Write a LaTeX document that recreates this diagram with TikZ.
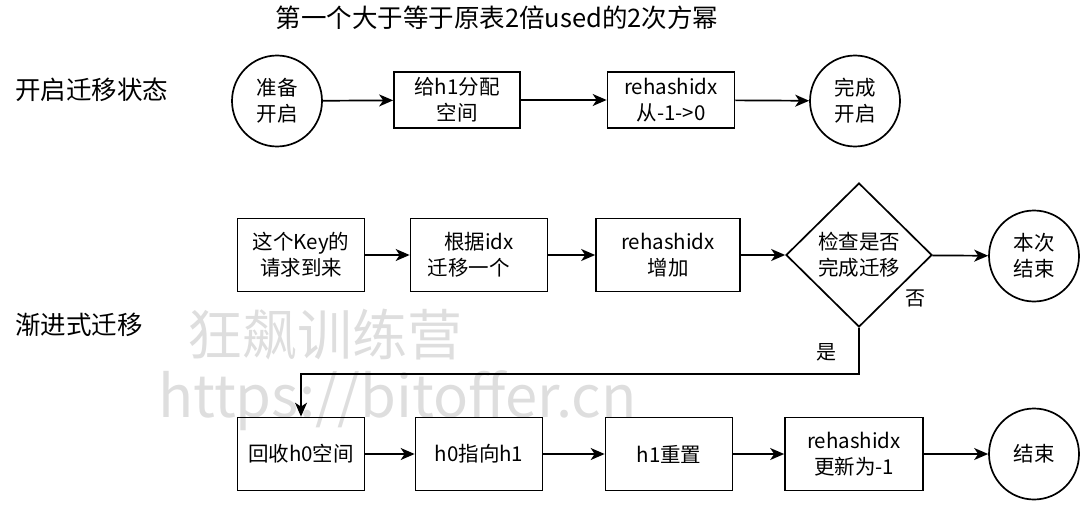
\documentclass[tikz,border=0pt]{standalone}
\usepackage{fontspec}
\setmainfont{Noto Sans CJK SC}
\usetikzlibrary{arrows.meta,shapes.geometric,positioning}

\begin{document}
\begin{tikzpicture}[x=1pt, y=-1pt,
    box/.style={draw, line width=1.7pt, minimum width=127pt, minimum height=73pt, align=center, inner sep=2pt, font=\fontsize{20.5}{26}\selectfont},
    term/.style={draw, ellipse, line width=1.7pt, minimum width=90pt, minimum height=91pt, inner sep=0pt, align=center, font=\fontsize{20.5}{26}\selectfont},
    chk/.style={draw, diamond, aspect=1, line width=1.7pt, minimum width=146pt, minimum height=144pt, inner sep=0pt, align=center, font=\fontsize{20.5}{26}\selectfont},
    arr/.style={-{Stealth[length=14pt, width=12pt, inset=4pt]}, line width=1.7pt},
    lbl/.style={inner sep=1pt, font=\fontsize{20}{24}\selectfont},
    hdr/.style={anchor=west, inner sep=0pt, font=\fontsize{25.5}{30}\selectfont},
    wmk/.style={text=black!13, inner sep=0pt, anchor=base west}
]
\useasboundingbox (0,0) rectangle (1086,508);

% watermark
\node[wmk, font=\fontsize{55}{60}\selectfont] (wm1) at (187,355) {狂飙训练营};
\node[wmk, font=\fontsize{58}{64}\selectfont] (wm2) at (158,417) {https://bitoffer.cn};

% titles
\node[inner sep=0pt, font=\fontsize{25.5}{30}\selectfont] (title) at (497,18) {第一个大于等于原表2倍used的2次方幂};
\node[hdr] (hopen) at (15,90) {开启迁移状态};
\node[hdr] (hprog) at (15,325) {渐进式迁移};

% row 1
\node[term] (prep) at (277,101) {准备\\开启};
\node[box, minimum width=126pt, minimum height=56pt] (alloc) at (457,100) {给h1分配\\空间};
\node[box, minimum width=127pt, minimum height=56pt] (zero) at (671,100) {rehashidx\\从-1->0};
\node[term] (opened) at (855,101) {完成\\开启};

\draw[arr] (prep) -- (alloc);
\draw[arr] (alloc) -- (zero);
\draw[arr] (zero) -- (opened);

% row 2
\node[box] (req) at (301,255) {这个Key的\\请求到来};
\node[box, minimum width=137pt] (move) at (479,255) {根据idx\\迁移一个\phantom{桶}};
\node[box, minimum width=144pt] (incr) at (668,255) {rehashidx\\增加};
\node[chk] (done) at (859,255) {检查是否\\完成迁移};
\node[term] (stop) at (1034,256) {本次\\结束};

\draw[arr] (req) -- (move);
\draw[arr] (move) -- (incr);
\draw[arr] (incr) -- (done);
\draw[arr] (done) -- (stop);
\node[lbl] (no) at (915,298) {否};
\node[lbl] (yes) at (826,352) {是};

% row 3
\node[box] (free) at (301,454) {回收h0空间};
\node[box] (point) at (479,454) {h0指向h1};
\node[box] (reset) at (669,454) {h1重置};
\node[box, minimum width=138pt] (minus) at (854,454) {rehashidx\\更新为-1};
\node[term] (fin) at (1034,454) {结束};

\draw[arr] (done.south) -- ++(0,46) -| (free.north);
\draw[arr] (free) -- (point);
\draw[arr] (point) -- (reset);
\draw[arr] (reset) -- (minus);
\draw[arr] (minus) -- (fin);
\end{tikzpicture}
\end{document}
